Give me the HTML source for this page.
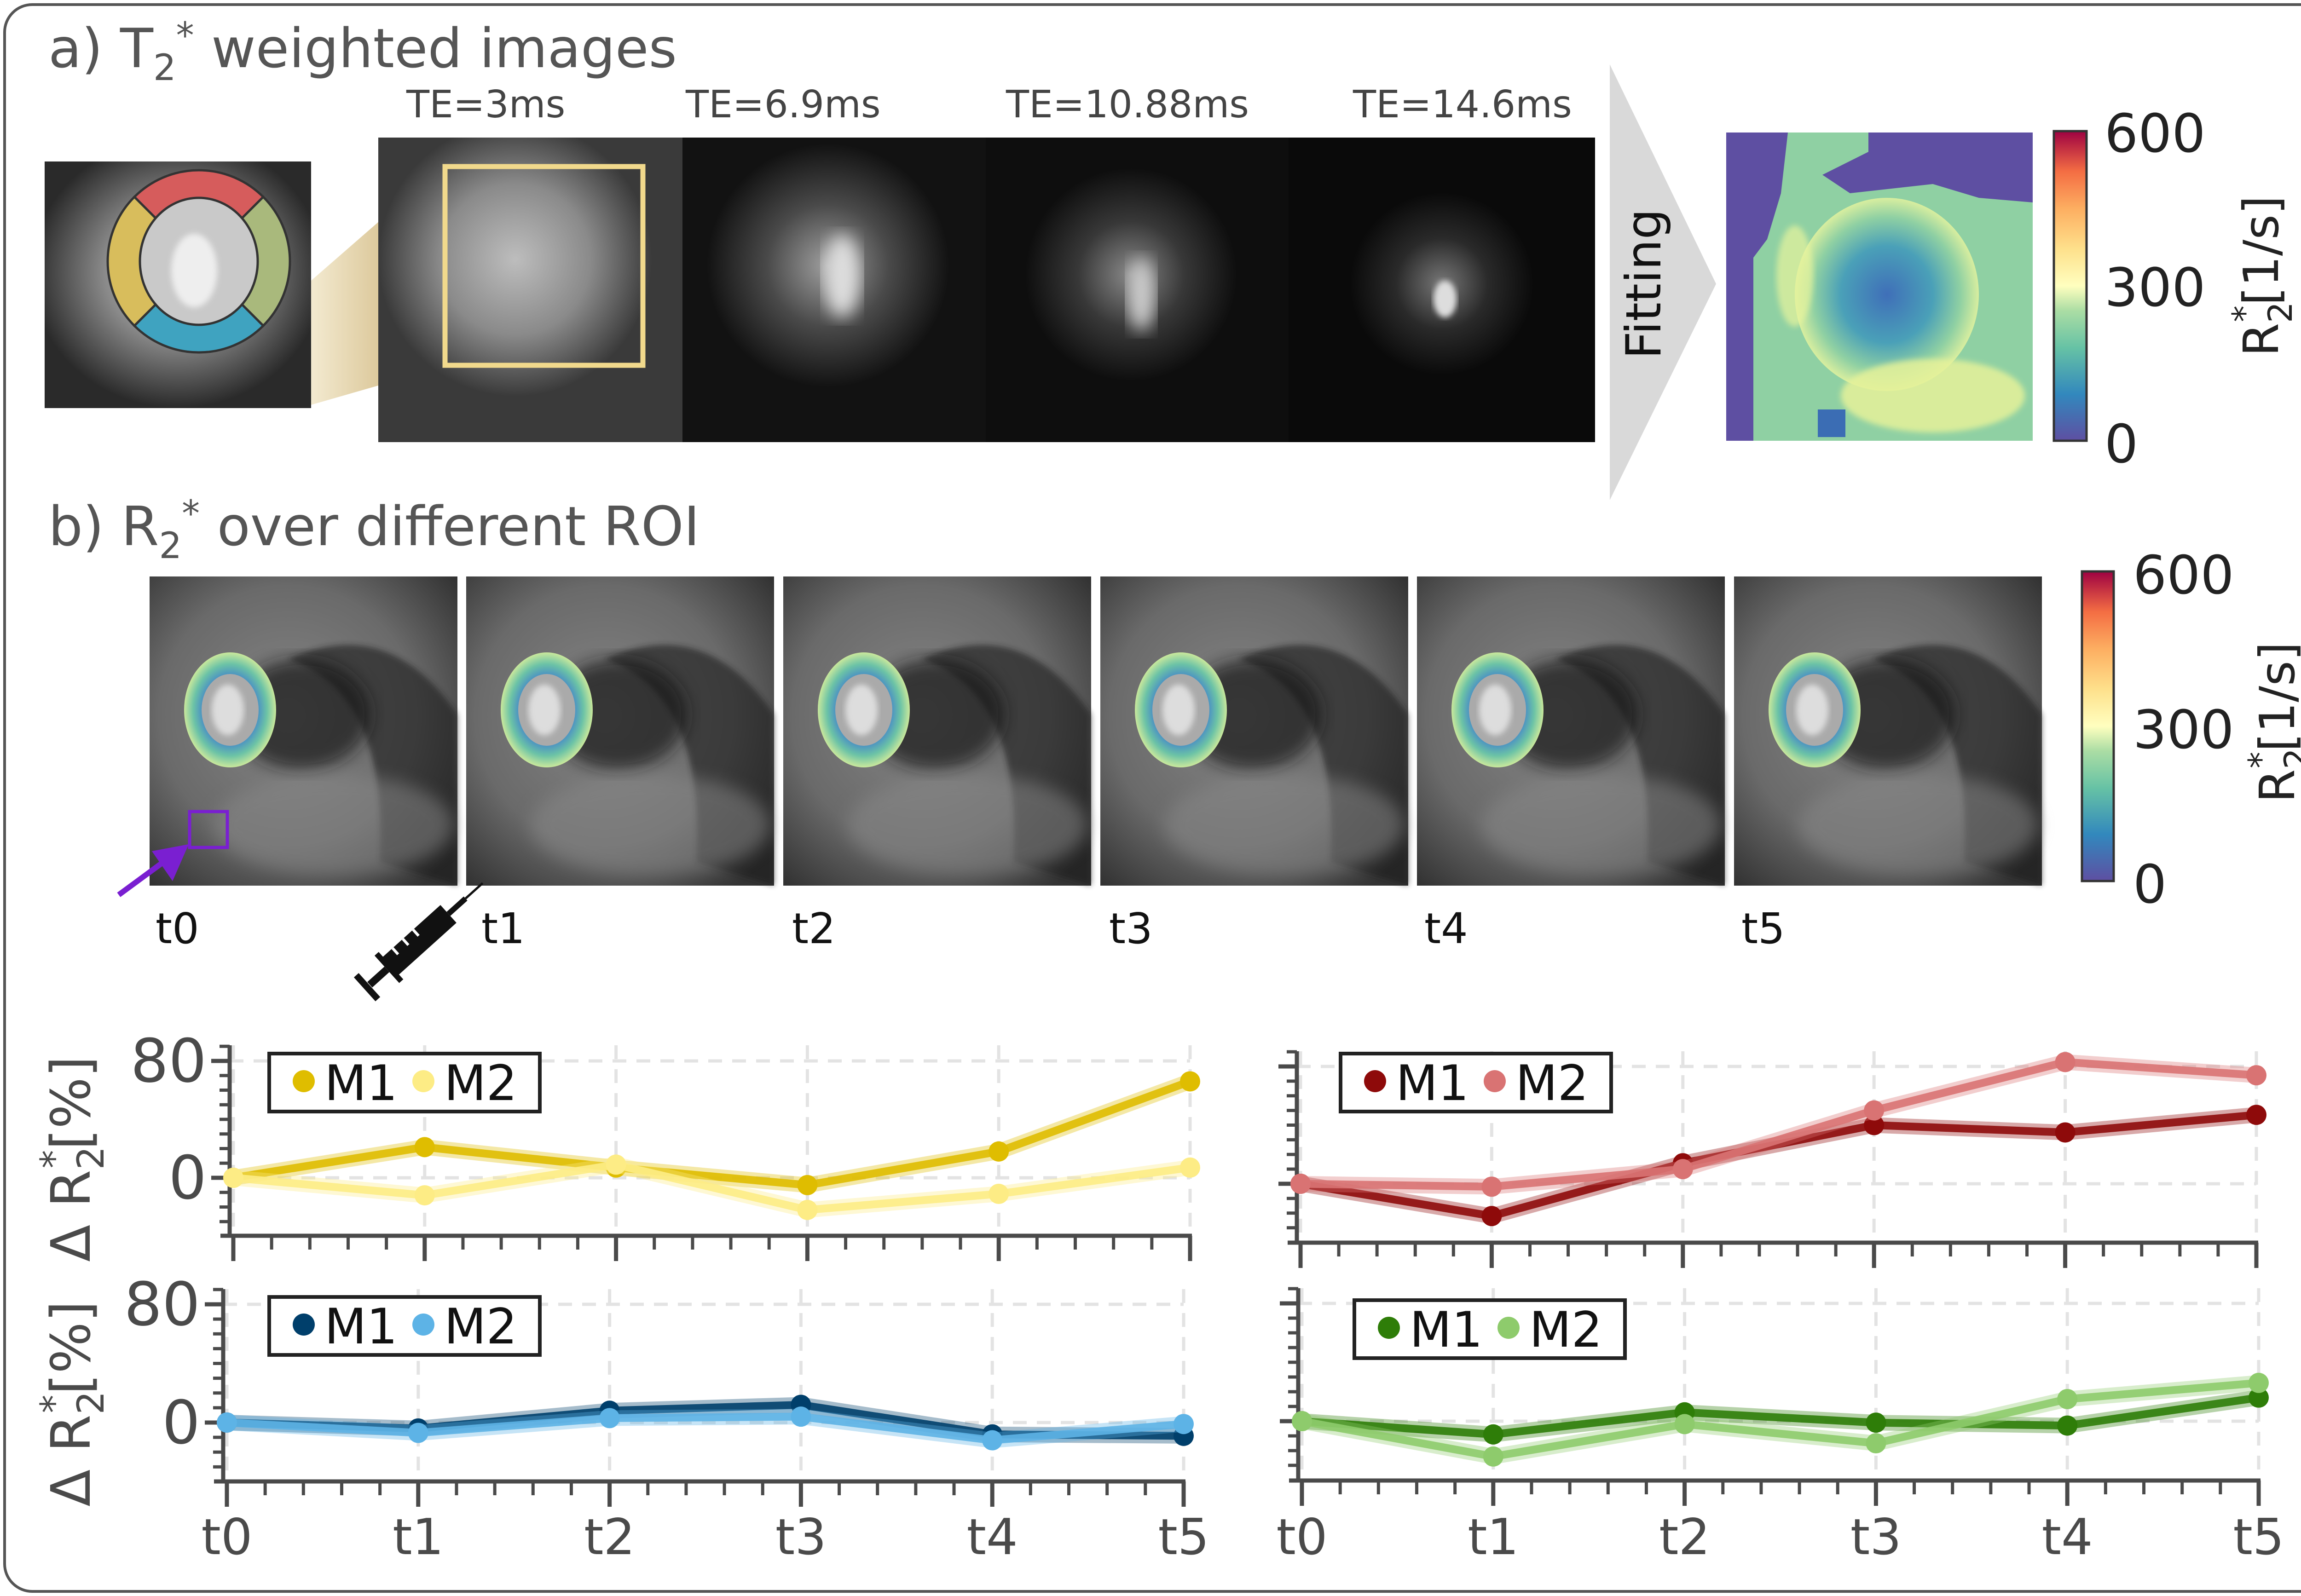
<!DOCTYPE html>
<html><head><meta charset="utf-8"><style>
html,body{margin:0;padding:0;background:#fff}
svg{display:block}
text{font-family:"DejaVu Sans","Liberation Sans",sans-serif}
</style></head><body>
<svg id="fig" width="5093" height="3469" viewBox="0 0 5093 3469" xmlns="http://www.w3.org/2000/svg">
<defs>
<radialGradient id="gHeart" cx="50%" cy="45%" r="55%"><stop offset="0" stop-color="#c8c8c8"/><stop offset="0.5" stop-color="#8a8a8a"/><stop offset="1" stop-color="#2a2a2a"/></radialGradient>
<radialGradient id="gTE1" cx="45%" cy="40%" r="45%"><stop offset="0" stop-color="#bdbdbd"/><stop offset="0.55" stop-color="#8a8a8a"/><stop offset="1" stop-color="#3a3a3a"/></radialGradient>
<radialGradient id="gTE2" cx="48%" cy="42%" r="40%"><stop offset="0" stop-color="#a0a0a0"/><stop offset="0.5" stop-color="#4a4a4a"/><stop offset="1" stop-color="#121212"/></radialGradient>
<radialGradient id="gTE3" cx="48%" cy="45%" r="35%"><stop offset="0" stop-color="#8a8a8a"/><stop offset="0.5" stop-color="#383838"/><stop offset="1" stop-color="#0e0e0e"/></radialGradient>
<radialGradient id="gTE4" cx="50%" cy="48%" r="30%"><stop offset="0" stop-color="#777"/><stop offset="0.5" stop-color="#2a2a2a"/><stop offset="1" stop-color="#0a0a0a"/></radialGradient>
<linearGradient id="gWedge" x1="0" x2="1"><stop offset="0" stop-color="#f3ead0"/><stop offset="1" stop-color="#c7a96a"/></linearGradient>
<linearGradient id="gCbar" x1="0" y1="1" x2="0" y2="0"><stop offset="0" stop-color="#5e4fa2"/><stop offset="0.15" stop-color="#3288bd"/><stop offset="0.3" stop-color="#66c2a5"/><stop offset="0.42" stop-color="#abdda4"/><stop offset="0.5" stop-color="#ffffbf"/><stop offset="0.62" stop-color="#fee08b"/><stop offset="0.75" stop-color="#fdae61"/><stop offset="0.87" stop-color="#f46d43"/><stop offset="1" stop-color="#9e0142"/></linearGradient>
<radialGradient id="gMapIn" cx="50%" cy="50%" r="50%"><stop offset="0" stop-color="#3f6fb8"/><stop offset="0.5" stop-color="#4aa0b8"/><stop offset="0.8" stop-color="#8fd0a3"/><stop offset="1" stop-color="#d8ee9f"/></radialGradient>
<radialGradient id="gMri" cx="45%" cy="45%" r="70%"><stop offset="0" stop-color="#858585"/><stop offset="0.6" stop-color="#6a6a6a"/><stop offset="1" stop-color="#333"/></radialGradient>
<radialGradient id="gRing" cx="50%" cy="50%" r="50%"><stop offset="0.6" stop-color="#4a90c4"/><stop offset="0.8" stop-color="#6cc3a6"/><stop offset="1" stop-color="#c9e89c"/></radialGradient>
<filter id="blur"><feGaussianBlur stdDeviation="18"/></filter>
<filter id="blur2"><feGaussianBlur stdDeviation="6"/></filter>
</defs>

<rect x="10" y="10" width="5073" height="3449" rx="60" fill="#fff" stroke="#555" stroke-width="6"/>

<text x="105" y="146" font-size="118" fill="#555">a) T<tspan font-size="78" dy="28">2</tspan><tspan font-size="78" dy="-70">*</tspan><tspan dy="42"> weighted images</tspan></text>

<g>
<rect x="97" y="351" width="579" height="536" fill="url(#gHeart)"/>
<g transform="translate(432,568)">
<path d="M0 0 L-140 -140 A198 198 0 0 1 140 -140 Z" fill="#d65c5c" stroke="#333" stroke-width="5"/>
<path d="M0 0 L140 -140 A198 198 0 0 1 140 140 Z" fill="#a9b97c" stroke="#333" stroke-width="5"/>
<path d="M0 0 L140 140 A198 198 0 0 1 -140 140 Z" fill="#3fa3c0" stroke="#333" stroke-width="5"/>
<path d="M0 0 L-140 140 A198 198 0 0 1 -140 -140 Z" fill="#d8bd5c" stroke="#333" stroke-width="5"/>
<ellipse cx="0" cy="0" rx="128" ry="138" fill="#c9c9c9" stroke="#333" stroke-width="5"/>
<ellipse cx="-10" cy="20" rx="50" ry="80" fill="#eee" filter="url(#blur2)"/>
</g>
</g>
<polygon points="676,610 965,358 965,797 676,880" fill="url(#gWedge)"/>

<g>
<rect x="822" y="299" width="661" height="662" fill="#555"/>
<rect x="822" y="299" width="661" height="662" fill="url(#gTE1)"/>
<rect x="1483" y="299" width="659" height="662" fill="url(#gTE2)"/>
<ellipse cx="1830" cy="600" rx="40" ry="90" fill="#ddd" filter="url(#blur)"/>
<rect x="2142" y="299" width="658" height="662" fill="url(#gTE3)"/>
<ellipse cx="2480" cy="640" rx="30" ry="80" fill="#ccc" filter="url(#blur)"/>
<rect x="2800" y="299" width="666" height="662" fill="url(#gTE4)"/>
<ellipse cx="3140" cy="650" rx="25" ry="40" fill="#ddd" filter="url(#blur2)"/>
</g>
<rect x="967" y="362" width="430" height="432" fill="none" stroke="#f1d98c" stroke-width="11"/>
<text x="883" y="255" font-size="82" fill="#444">TE=3ms</text>
<text x="1490" y="255" font-size="82" fill="#444">TE=6.9ms</text>
<text x="2186" y="255" font-size="82" fill="#444">TE=10.88ms</text>
<text x="2940" y="255" font-size="82" fill="#444">TE=14.6ms</text>

<polygon points="3498,140 3729,617 3498,1087" fill="#d9d9d9"/>
<text transform="translate(3608,617) rotate(-90)" text-anchor="middle" font-size="105" fill="#111">Fitting</text>

<g>
<rect x="3751" y="288" width="666" height="670" fill="#5e4fa2"/>
<path d="M3885 288 L4060 288 L4060 330 L3960 380 L4020 420 L4200 400 L4300 430 L4417 440 L4417 958 L3810 958 L3810 560 L3840 520 L3870 420 Z" fill="#8fd0a3"/>
<ellipse cx="4100" cy="640" rx="200" ry="210" fill="url(#gMapIn)"/>
<ellipse cx="4200" cy="860" rx="200" ry="80" fill="#e6f29a" opacity="0.85" filter="url(#blur2)"/>
<ellipse cx="3900" cy="600" rx="40" ry="110" fill="#e8f49d" opacity="0.7" filter="url(#blur2)"/>
<rect x="3950" y="890" width="60" height="60" fill="#3b6db4"/>
</g>
<rect x="4463" y="285" width="71" height="673" fill="url(#gCbar)" stroke="#333" stroke-width="5"/>
<text x="4573" y="330" font-size="115" fill="#222">600</text>
<text x="4573" y="665" font-size="115" fill="#222">300</text>
<text x="4573" y="1005" font-size="115" fill="#222">0</text>
<text transform="translate(4950,600) rotate(-90)" text-anchor="middle" font-size="105" fill="#222">R<tspan font-size="72" dy="30">2</tspan><tspan font-size="72" dx="-44" dy="-78">*</tspan><tspan dy="48">[1/s]</tspan></text>

<text x="105" y="1185" font-size="118" fill="#555">b) R<tspan font-size="78" dy="28">2</tspan><tspan font-size="78" dy="-70">*</tspan><tspan dy="42"> over different ROI</tspan></text>

<g id="roiImgs"></g>
<rect x="4524" y="1242" width="69" height="673" fill="url(#gCbar)" stroke="#333" stroke-width="5"/>
<text x="4635" y="1290" font-size="115" fill="#222">600</text>
<text x="4635" y="1626" font-size="115" fill="#222">300</text>
<text x="4635" y="1962" font-size="115" fill="#222">0</text>
<text transform="translate(4985,1570) rotate(-90)" text-anchor="middle" font-size="105" fill="#222">R<tspan font-size="72" dy="30">2</tspan><tspan font-size="72" dx="-44" dy="-78">*</tspan><tspan dy="48">[1/s]</tspan></text>

<rect x="412" y="1764" width="82" height="78" fill="none" stroke="#7a1fd1" stroke-width="7"/>
<line x1="258" y1="1945" x2="360" y2="1870" stroke="#7a1fd1" stroke-width="12"/>
<polygon points="410,1835 330,1850 375,1915" fill="#7a1fd1"/>

<g id="tlabels"></g>

<g transform="translate(915,2040) rotate(-42)">
<rect x="-90" y="-26" width="170" height="52" fill="#111"/>
<rect x="80" y="-6" width="50" height="12" fill="#111"/>
<line x1="130" y1="0" x2="180" y2="0" stroke="#111" stroke-width="5"/>
<rect x="-100" y="-40" width="12" height="80" fill="#111"/>
<rect x="-150" y="-8" width="50" height="16" fill="#111"/>
<rect x="-165" y="-35" width="14" height="70" fill="#111"/>
<line x1="-60" y1="-26" x2="-60" y2="-8" stroke="#fff" stroke-width="6"/>
<line x1="-30" y1="-26" x2="-30" y2="-8" stroke="#fff" stroke-width="6"/>
<line x1="0" y1="-26" x2="0" y2="-8" stroke="#fff" stroke-width="6"/>
</g>

<g id="charts"></g>
</svg>

<script>
// ---- chart data ----
const categories = ["t0","t1","t2","t3","t4","t5"];
const yTicks = [0, 80];
const yellowM1 = [0, 21, 7, -5, 18, 66];
const yellowM2 = [0, -12, 9, -22, -11, 7];
const redM1 = [0, -22, 14, 40, 35, 47];
const redM2 = [0, -2, 10, 50, 83, 74];
const blueM1 = [0, -4, 8, 12, -8, -9];
const blueM2 = [0, -7, 3, 4, -12, -1];
const greenM1 = [0, -9, 6, -1, -3, 16];
const greenM2 = [0, -24, -2, -15, 15, 26];
const legendLabels = ["M1","M2"];

const NS = "http://www.w3.org/2000/svg";
function mk(tag, attrs, parent){const e=document.createElementNS(NS,tag);for(const k in attrs)e.setAttribute(k,attrs[k]);parent.appendChild(e);return e;}

const roiG = document.getElementById('roiImgs');
const imgX = [325,1013,1702,2391,3079,3768];
imgX.forEach((x,i)=>{
  const g = mk('g',{},roiG);
  
  
  mk('rect',{x:x,y:1253,width:669,height:672,fill:'url(#gMri)'},g);
  mk('path',{d:`M${x+300} ${1253+180} Q${x+520} ${1253+250} ${x+500} ${1253+620} L${x+669} ${1253+672} L${x+669} ${1253+300} Q${x+520} ${1253+80} ${x+300} ${1253+180} Z`,fill:'#1c1c1c',opacity:0.6,filter:'url(#blur2)'},g);
  mk('ellipse',{cx:x+330,cy:1253+300,rx:150,ry:120,fill:'#151515',opacity:0.7,filter:'url(#blur)'},g);
  mk('ellipse',{cx:x+400,cy:1253+540,rx:260,ry:110,fill:'#8a8a8a',opacity:0.5,filter:'url(#blur)'},g);
  mk('ellipse',{cx:x+175,cy:1253+290,rx:100,ry:125,fill:'url(#gRing)'},g);
  mk('ellipse',{cx:x+175,cy:1253+290,rx:62,ry:78,fill:'#aaa'},g);
  mk('ellipse',{cx:x+170,cy:1253+290,rx:35,ry:55,fill:'#ddd',filter:'url(#blur2)'},g);
});
const tl = document.getElementById('tlabels');
const tlx = [338,1046,1721,2410,3095,3784];
tlx.forEach((x,i)=>{
  const t = mk('text',{x:x,y:2050,'font-size':92,fill:'#111'},tl);
  
  
  t.textContent = categories[i];
});

const charts = [
  {name:'chart-yellow', x0:507, x5:2586, y0:2560, y80:2306, yBot:2686, yTop:2272, c1:'#dfbd00', c2:'#fdec85', s1:yellowM1, s2:yellowM2, leg:[585,2290,588,126], ylabel:true, xlabels:false},
  {name:'chart-red', x0:2826, x5:4903, y0:2573, y80:2318, yBot:2701, yTop:2285, c1:'#8e0a0a', c2:'#d97373', s1:redM1, s2:redM2, leg:[2913,2290,588,126], ylabel:false, xlabels:false},
  {name:'chart-blue', x0:493, x5:2572, y0:3092, y80:2835, yBot:3220, yTop:2802, c1:'#003f6b', c2:'#5db3e6', s1:blueM1, s2:blueM2, leg:[585,2819,588,126], ylabel:true, xlabels:true},
  {name:'chart-green', x0:2829, x5:4908, y0:3089, y80:2833, yBot:3218, yTop:2800, c1:'#2e7d08', c2:'#8ecb6c', s1:greenM1, s2:greenM2, leg:[2943,2826,588,126], ylabel:false, xlabels:true}
];
const cg = document.getElementById('charts');
charts.forEach(ch=>{
  const g = mk('g',{},cg);
  
  
  const xs = i => ch.x0 + i*(ch.x5-ch.x0)/(categories.length-1);
  const ys = v => ch.y0 - v*(ch.y0-ch.y80)/80;
  const axX = ch.x0 - 8;
  categories.forEach((c,i)=>{
    const l = mk('line',{x1:xs(i),x2:xs(i),y1:ch.yTop,y2:ch.yBot,stroke:'#e3e3e3','stroke-width':7,'stroke-dasharray':'30 22'},g);
    
    
  });
  yTicks.forEach(v=>{
    const l = mk('line',{x1:axX,x2:ch.x5,y1:ys(v),y2:ys(v),stroke:'#e3e3e3','stroke-width':7,'stroke-dasharray':'30 22'},g);
    
    
  });
  const ya = mk('line',{x1:axX,x2:axX,y1:ch.yTop,y2:ch.yBot,stroke:'#4a4a4a','stroke-width':9},g);
  
  
  const xa = mk('line',{x1:axX-20,x2:ch.x5+4,y1:ch.yBot,y2:ch.yBot,stroke:'#4a4a4a','stroke-width':9},g);
  
  
  for(let v=-40; v<=90; v+=10){
    const y = ys(v); if(y<ch.yTop-2||y>ch.yBot-10) continue;
    const major = yTicks.includes(v);
    mk('line',{x1:axX-(major?40:22),x2:axX,y1:y,y2:y,stroke:'#4a4a4a','stroke-width':major?9:7},g);
  }
  const step = (ch.x5-ch.x0)/(categories.length-1)/5;
  for(let k=0;k<=25;k++){
    const x = ch.x0 + k*step; const major = k%5===0;
    mk('line',{x1:x,x2:x,y1:ch.yBot,y2:ch.yBot+(major?55:30),stroke:'#4a4a4a','stroke-width':major?9:7},g);
  }
  if(ch.ylabel){
    yTicks.forEach(v=>{
      const t = mk('text',{x:axX-50,y:ys(v)+45,'font-size':130,fill:'#4a4a4a','text-anchor':'end'},g);
      
      
      t.textContent = v;
    });
    const yl = mk('text',{transform:`translate(195,${(ch.yTop+ch.yBot)/2+40}) rotate(-90)`,'font-size':118,fill:'#4a4a4a','text-anchor':'middle'},g);
    
    
    yl.innerHTML = 'Δ R<tspan font-size="80" dy="30">2</tspan><tspan font-size="80" dx="-48" dy="-80">*</tspan><tspan dy="50">[%]</tspan>';
  }
  if(ch.xlabels){
    categories.forEach((c,i)=>{
      const t = mk('text',{x:xs(i),y:3378,'font-size':108,fill:'#4a4a4a','text-anchor':'middle'},g);
      
      
      t.textContent = c;
    });
  }
  [[ch.s1,ch.c1,'series-m1'],[ch.s2,ch.c2,'series-m2']].forEach(([s,col,nm])=>{
    const pts = s.map((v,i)=>xs(i)+','+ys(v)).join(' ');
    const halo = mk('polyline',{points:pts,fill:'none',stroke:col,'stroke-width':34,opacity:0.35,'stroke-linejoin':'round'},g);
    
    
    const ln = mk('polyline',{points:pts,fill:'none',stroke:col,'stroke-width':17,opacity:0.9,'stroke-linejoin':'round'},g);
    
    
    s.forEach((v,i)=>{
      const p = mk('circle',{cx:xs(i),cy:ys(v),r:22,fill:col},g);
      
      
    });
  });
  const [lx,ly,lw,lh] = ch.leg;
  const lg = mk('g',{},g);
  
  
  mk('rect',{x:lx,y:ly,width:lw,height:lh,fill:'#fff',stroke:'#222','stroke-width':8},lg);
  [[ch.c1,legendLabels[0],lx+75],[ch.c2,legendLabels[1],lx+335]].forEach(([col,lab,x])=>{
    const d = mk('circle',{cx:x,cy:ly+lh/2-3,r:24,fill:col},lg);
    
    
    const t = mk('text',{x:x+45,y:ly+lh/2+38,'font-size':106,fill:'#111'},lg);
    
    
    t.textContent = lab;
  });
});
</script>
</body></html>
